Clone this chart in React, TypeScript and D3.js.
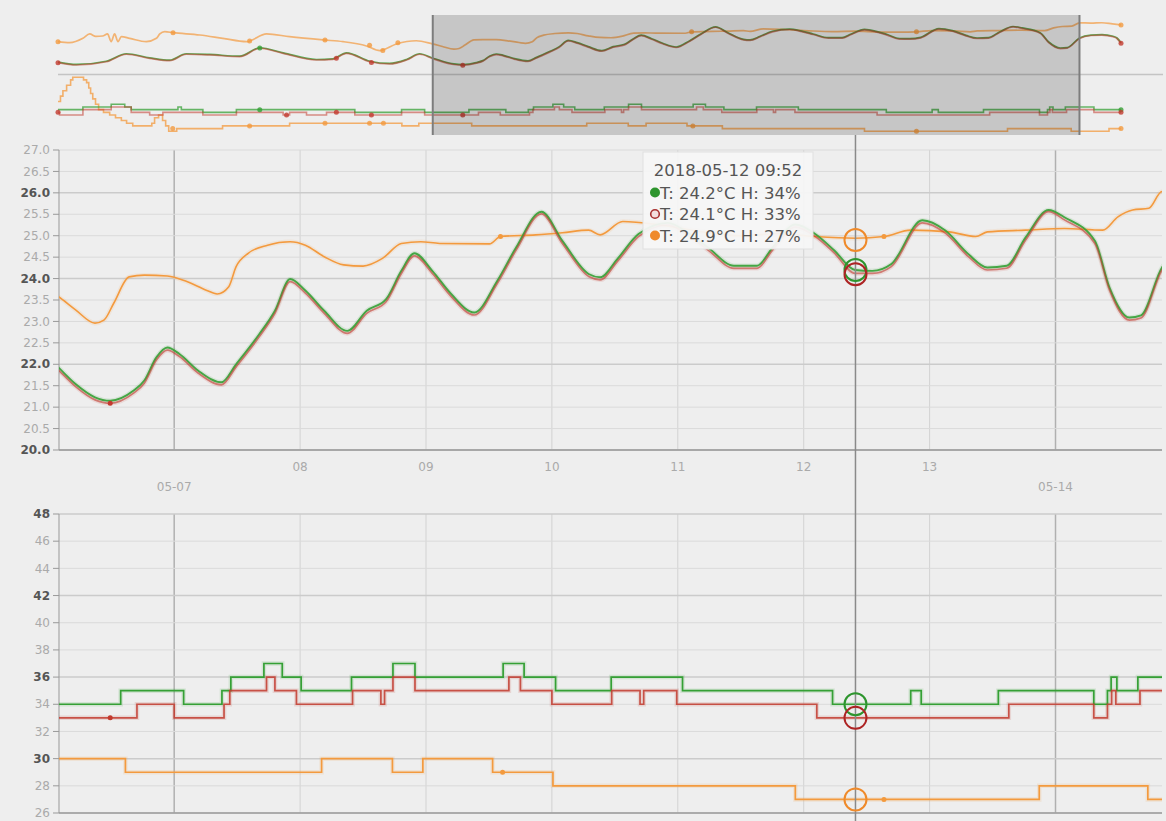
import React from 'react';
import * as d3 from 'd3';

type P = [number, number];

// time base: hours are offsets from 2018-05-06 00:00 (local)
const BASE = new Date(2018, 4, 6, 0, 0, 0);
const toDate = (h: number) => new Date(BASE.getTime() + h * 3600000);

const DATA_START_H = -119.8;
const DATA_END_H = 225.8;
const VIEW_START_H = 2.04;
const VIEW_END_H = 212.3;
const CURSOR_H = 153.87;

// Temperature (°C) – [hour, value]
const TEMP_RED: P[] = [
  [-119.8, 21.38], [-113.8, 21.11], [-104.1, 21.49], [-97.6, 22.36], [-90.0, 21.89], [-83.5, 21.61],
  [-78.1, 22.36], [-70.5, 22.28], [-60.7, 22.08], [-54.2, 23.06], [-46.6, 22.47], [-35.8, 21.69],
  [-30.4, 21.77], [-26.0, 22.47], [-18.4, 21.49], [-12.0, 21.23], [-6.5, 21.69], [-2.2, 22.36],
  [1.9, 21.87], [5.2, 21.48], [8.9, 21.17], [11.8, 21.09], [16.2, 21.32], [18.3, 21.56], [20.6, 22.1],
  [22.7, 22.33], [25.0, 22.18], [28.6, 21.79], [33.0, 21.52], [35.8, 21.94], [40.2, 22.64], [43.2, 23.19],
  [46.1, 23.93], [49.0, 23.66], [52.6, 23.19], [57.0, 22.72], [60.7, 23.19], [64.4, 23.46], [67.3, 24.12],
  [69.8, 24.53], [73.2, 24.12], [76.8, 23.58], [81.2, 23.15], [85.6, 23.89], [89.2, 24.67], [94.0, 25.51],
  [98.0, 24.82], [103.1, 24.04], [105.2, 23.97], [108.5, 24.4], [112.5, 24.98], [118.1, 25.25], [122.0, 25.0],
  [125.7, 24.67], [130.7, 24.24], [135.1, 24.24], [138.1, 24.67], [142.4, 25.2], [146.2, 24.98], [149.8, 24.6],
  [153.8, 24.12], [157.1, 24.12], [160.7, 24.28], [166.6, 25.3], [171.0, 25.06], [175.4, 24.51], [179.0, 24.2],
  [182.7, 24.24], [186.3, 24.9], [190.7, 25.56], [193.7, 25.37], [199.5, 24.82], [202.3, 23.73], [206.1, 23.03],
  [208.3, 23.08], [212.3, 24.2], [216.0, 24.55], [219.6, 24.6], [223.2, 24.4], [224.5, 24.2], [225.8, 23.64],
];
const TEMP_GREEN: P[] = [
  [-119.8, 21.44], [-113.8, 21.17], [-104.1, 21.55], [-97.6, 22.42], [-90.0, 21.95], [-83.5, 21.67],
  [-78.1, 22.42], [-70.5, 22.34], [-60.7, 22.14], [-54.2, 23.12], [-46.6, 22.53], [-35.8, 21.75],
  [-30.4, 21.83], [-26.0, 22.53], [-18.4, 21.55], [-12.0, 21.29], [-6.5, 21.75], [-2.2, 22.42],
  [1.9, 21.93], [5.2, 21.54], [8.9, 21.23], [11.8, 21.15], [16.2, 21.38], [18.3, 21.62], [20.6, 22.16],
  [22.7, 22.39], [25.0, 22.24], [28.6, 21.85], [33.0, 21.58], [35.8, 22.0], [40.2, 22.7], [43.2, 23.25],
  [46.1, 23.99], [49.0, 23.72], [52.6, 23.25], [57.0, 22.78], [60.7, 23.25], [64.4, 23.52], [67.3, 24.18],
  [69.8, 24.59], [73.2, 24.18], [76.8, 23.64], [81.2, 23.21], [85.6, 23.95], [89.2, 24.73], [94.0, 25.56],
  [98.0, 24.88], [103.1, 24.1], [105.2, 24.03], [108.5, 24.46], [112.5, 25.04], [118.1, 25.3], [122.0, 25.06],
  [125.7, 24.73], [130.7, 24.3], [135.1, 24.3], [138.1, 24.73], [142.4, 25.26], [146.2, 25.04], [149.8, 24.66],
  [153.8, 24.2], [157.1, 24.18], [160.7, 24.34], [166.6, 25.36], [171.0, 25.12], [175.4, 24.57], [179.0, 24.26],
  [182.7, 24.3], [186.3, 24.96], [190.7, 25.6], [193.7, 25.43], [199.5, 24.88], [202.3, 23.79], [206.1, 23.09],
  [208.3, 23.14], [212.3, 24.26], [216.0, 24.6], [219.6, 24.66], [223.2, 24.46], [224.5, 24.26], [225.8, 23.7],
];
const TEMP_ORANGE: P[] = [
  [-119.8, 23.83], [-116.0, 23.71], [-111.7, 24.22], [-109.5, 24.73], [-107.5, 24.45], [-105.3, 24.49],
  [-103.7, 24.73], [-102.5, 23.83], [-101.4, 24.73], [-100.3, 23.83], [-99.2, 24.41], [-96.5, 24.22],
  [-91.1, 23.83], [-87.8, 24.22], [-86.7, 24.73], [-85.1, 25.0], [-82.4, 24.88], [-73.7, 24.61],
  [-66.2, 24.22], [-58.5, 23.83], [-52.0, 24.73], [-44.5, 24.41], [-33.6, 24.03], [-27.1, 23.83],
  [-19.5, 23.33], [-15.2, 22.78], [-9.8, 23.56], [-3.3, 23.94],
  [1.9, 23.58], [5.2, 23.27], [8.9, 22.96], [10.6, 23.03], [12.5, 23.43], [15.4, 24.04], [18.3, 24.08],
  [22.7, 24.06], [26.4, 23.93], [30.1, 23.73], [32.2, 23.64], [34.4, 23.81], [35.8, 24.28], [38.1, 24.59],
  [41.8, 24.78], [46.1, 24.86], [49.0, 24.78], [52.6, 24.51], [56.3, 24.32], [60.0, 24.29], [63.7, 24.47],
  [67.3, 24.82], [71.0, 24.86], [74.6, 24.82], [84.1, 24.81], [86.2, 24.98], [92.9, 25.02], [98.0, 25.07],
  [103.0, 25.13], [105.2, 25.02], [109.5, 25.33], [116.6, 25.25], [124.2, 25.1], [132.0, 25.0], [139.5, 25.05],
  [146.2, 24.98], [153.8, 24.94], [159.3, 24.98], [164.4, 25.13], [171.7, 25.09], [176.8, 24.98], [179.0, 25.09],
  [186.3, 25.13], [193.7, 25.17], [201.0, 25.13], [203.9, 25.44], [206.7, 25.6], [209.8, 25.64], [212.3, 26.03],
  [216.0, 26.0], [219.6, 26.04], [223.0, 25.9], [225.8, 25.78],
];

// Humidity (%) – step change points [hour, value]
const HUM_GREEN: P[] = [
  [-119.8, 35], [-111.7, 36], [-102.5, 37], [-98.1, 36], [-96.0, 35], [-80.8, 36], [-79.7, 35], [-72.7, 34],
  [-61.8, 35], [-23.3, 34], [-8.1, 35], [-0.6, 34],
  [13.8, 35], [25.8, 34], [33.1, 35], [34.8, 36], [41.1, 37], [44.6, 36], [48.2, 35], [57.8, 36], [65.7, 37],
  [69.9, 36], [86.7, 37], [90.7, 36], [96.7, 35], [107.3, 36], [120.9, 35], [149.5, 34], [164.4, 35], [166.4, 34],
  [181.1, 35], [199.3, 34], [201.9, 35], [202.6, 36], [203.7, 35], [207.7, 36], [217.0, 35],
];
const HUM_RED: P[] = [
  [-119.8, 34], [-119.3, 33], [-111.7, 35], [-102.5, 36], [-96.0, 34], [-90.0, 33], [-85.7, 34], [-72.7, 33],
  [-61.8, 34], [-46.6, 33], [-44.5, 34], [-39.0, 33], [-32.5, 34], [-23.3, 33], [-8.1, 34], [-0.6, 33],
  [16.9, 34], [24.0, 33], [33.5, 34], [34.6, 35], [41.6, 36], [43.2, 35], [47.3, 34], [58.0, 35], [63.4, 34],
  [64.1, 35], [65.7, 36], [69.9, 35], [87.8, 36], [90.0, 35], [96.0, 34], [107.4, 35], [112.8, 34], [113.5, 35],
  [119.8, 34], [146.5, 33], [183.1, 34], [199.3, 33], [201.9, 34], [202.7, 35], [203.5, 34], [208.1, 35], [217.0, 34],
];
const HUM_ORANGE: P[] = [
  [-119.8, 38], [-119.0, 40], [-118.2, 42], [-117.0, 44], [-115.7, 46], [-115.0, 47], [-111.5, 46], [-110.5, 45],
  [-109.8, 43], [-109.2, 41], [-108.5, 39], [-107.6, 37], [-106.6, 35], [-105.0, 34], [-103.0, 33], [-101.1, 32],
  [-99.2, 31], [-97.5, 30], [-95.5, 29], [-89.3, 30], [-88.4, 32], [-87.1, 33], [-85.8, 31], [-84.8, 29],
  [-83.8, 27], [-81.2, 28], [-66.3, 29], [-44.5, 30], [-8.0, 29], [-2.5, 30],
  [14.7, 29], [52.1, 30], [65.6, 29], [71.4, 30], [84.7, 29], [96.2, 28], [142.4, 27], [188.9, 28], [209.6, 27],
  [221.9, 28],
];

// isolated marker points
const DOTS_RED_T: P[] = [[-119.8, 21.38], [-29.3, 21.9], [-17.9, 21.4], [11.8, 21.09], [225.8, 23.64]];
const DOTS_GREEN_T: P[] = [[-54.2, 23.1]];
const DOTS_ORANGE_T: P[] = [[-119.8, 23.83], [-82.4, 24.88], [-57.5, 23.9], [-33.0, 24.03], [-18.5, 23.4], [-14.2, 22.8], [-9.3, 23.7], [86.2, 24.98], [159.3, 24.98], [225.8, 25.78]];
const DOTS_GREEN_H: P[] = [[-54.2, 35], [225.8, 35]];
const DOTS_RED_H: P[] = [[-119.8, 34], [-45.5, 33], [-29.3, 34], [-17.9, 33], [11.8, 33], [225.8, 34]];
const DOTS_ORANGE_H: P[] = [[-82.5, 28], [-57.5, 29], [-33.0, 30], [-18.5, 30], [-14.0, 30], [86.6, 29], [159.3, 27], [225.8, 28]];

const TEMP_TICKS = [20.0, 20.5, 21.0, 21.5, 22.0, 22.5, 23.0, 23.5, 24.0, 24.5, 25.0, 25.5, 26.0, 26.5, 27.0];
const TEMP_MAJOR = [20, 22, 24, 26];
const HUM_TICKS = [26, 28, 30, 32, 34, 36, 38, 40, 42, 44, 46, 48];
const HUM_MAJOR = [30, 36, 42, 48];

const TOOLTIP_TITLE = '2018-05-12 09:52';
const TOOLTIP_ROWS = [
  { key: 'green', t: 24.2, h: 34 },
  { key: 'red', t: 24.1, h: 33 },
  { key: 'orange', t: 24.9, h: 27 },
];

const COLORS: Record<string, string> = { green: '#35a035', red: '#c23a2e', orange: '#f39a3e' };
const RING: Record<string, string> = { green: '#2e952e', red: '#ad2424', orange: '#ef8a2a' };

const FONT = '"DejaVu Sans", Verdana, sans-serif';

export default function App() {
  const L = 59, R = 1162;
  const xMain = d3.scaleTime().domain([toDate(VIEW_START_H), toDate(VIEW_END_H)]).range([L, R]);
  const yT = d3.scaleLinear().domain([20, 27]).range([450, 150]);
  const yH = d3.scaleLinear().domain([26, 48]).range([813, 514]);
  const xOv = d3.scaleTime().domain([toDate(DATA_START_H), toDate(DATA_END_H)]).range([58, 1121]);
  const yOvT = d3.scaleLinear().domain([20, 27]).range([74.5, 14.5]);
  const yOvH = d3.scaleLinear().domain([26, 48]).range([134, 74.5]);

  const smooth = (xs: any, ys: any) => d3.line<P>().x(d => xs(toDate(d[0]))).y(d => ys(d[1])).curve(d3.curveMonotoneX);
  const step = (xs: any, ys: any) => (pts: P[]) =>
    d3.line<P>().x(d => xs(toDate(d[0]))).y(d => ys(d[1])).curve(d3.curveStepAfter)([...pts, [DATA_END_H, pts[pts.length - 1][1]]]);

  const days = d3.timeDay.range(toDate(VIEW_START_H), toDate(VIEW_END_H));
  const fmtWeek = d3.timeFormat('%m-%d');
  const fmtDay = d3.timeFormat('%d');
  const cx = xMain(toDate(CURSOR_H));

  const tempSeries: [string, P[], P[]][] = [['orange', TEMP_ORANGE, DOTS_ORANGE_T], ['green', TEMP_GREEN, DOTS_GREEN_T], ['red', TEMP_RED, DOTS_RED_T]];
  const humSeries: [string, P[], P[]][] = [['orange', HUM_ORANGE, DOTS_ORANGE_H], ['green', HUM_GREEN, DOTS_GREEN_H], ['red', HUM_RED, DOTS_RED_H]];

  const lineW: Record<string, number> = { orange: 1.6, green: 1.9, red: 1.7 };
  const lineOp: Record<string, number> = { orange: 1, green: 0.9, red: 0.6 };

  const yAxis = (ys: any, ticks: number[], major: number[], top: number, bottom: number, fmt: (v: number) => string) => (
    <g>
      {ticks.map(v => (
        <g key={v}>
          <line x1={L} x2={R} y1={ys(v)} y2={ys(v)} stroke={major.includes(v) ? '#cbcbcb' : '#dadada'} strokeWidth={major.includes(v) ? 1.5 : 1} />
          <line x1={L - 6} x2={L} y1={ys(v)} y2={ys(v)} stroke="#999" />
          <text x={L - 9} y={ys(v)} dy="0.35em" textAnchor="end" fontFamily={FONT} fontSize={12}
            fontWeight={major.includes(v) ? 'bold' : 'normal'} fill={major.includes(v) ? '#555' : '#aaa'}>{fmt(v)}</text>
        </g>
      ))}
      <line x1={L} x2={L} y1={top} y2={bottom} stroke="#999" />
      <line x1={L} x2={R} y1={bottom} y2={bottom} stroke="#999" strokeWidth={1.5} />
    </g>
  );

  const vGrid = (top: number, bottom: number) => days.map((d, i) => {
    const wk = d.getDay() === 1;
    return <line key={i} x1={xMain(d)} x2={xMain(d)} y1={top} y2={bottom} stroke={wk ? '#b0b0b0' : '#d2d2d2'} strokeWidth={wk ? 1.5 : 1} />;
  });

  const bx0 = xOv(toDate(VIEW_START_H));
  const bx1 = xOv(toDate(VIEW_END_H));

  return (
    <svg width={1166} height={821} style={{ position: 'absolute', left: 0, top: 0, display: 'block' }}>
      <defs>
        <clipPath id="clipT"><rect x={L} y={148} width={R - L} height={303} /></clipPath>
        <clipPath id="clipH"><rect x={L} y={512} width={R - L} height={302} /></clipPath>
      </defs>
      <rect x={0} y={0} width={1166} height={821} fill="#eeeeee" />

      {/* Overview */}
      <line x1={58} x2={1163} y1={74.5} y2={74.5} stroke="#c4c4c4" strokeWidth={1.5} />
      {tempSeries.map(([k, pts]) => (
        <path key={'ovt' + k} d={smooth(xOv, yOvT)(pts) || ''} fill="none" stroke={COLORS[k]} strokeWidth={1.7} opacity={k === 'red' ? 0.55 : k === 'orange' ? 0.7 : 0.8} />
      ))}
      {humSeries.map(([k, pts]) => (
        <path key={'ovh' + k} d={step(xOv, yOvH)(pts) || ''} fill="none" stroke={COLORS[k]} strokeWidth={1.6} opacity={k === 'red' ? 0.55 : 0.75} />
      ))}
      {tempSeries.map(([k, , dots]) => dots.map((p, i) => (
        <circle key={'ovtd' + k + i} cx={xOv(toDate(p[0]))} cy={yOvT(p[1])} r={2.5} fill={COLORS[k]} opacity={0.8} />
      )))}
      {humSeries.map(([k, , dots]) => dots.map((p, i) => (
        <circle key={'ovhd' + k + i} cx={xOv(toDate(p[0]))} cy={yOvH(p[1])} r={2.5} fill={COLORS[k]} opacity={0.8} />
      )))}
      <rect x={bx0} y={15} width={bx1 - bx0} height={120} fill="rgba(0,0,0,0.17)" />
      <line x1={bx0} x2={bx0} y1={15} y2={135} stroke="#7d7d7d" strokeWidth={2} />
      <line x1={bx1} x2={bx1} y1={15} y2={135} stroke="#7d7d7d" strokeWidth={2} />

      {/* Temperature chart */}
      {vGrid(150, 450)}
      {yAxis(yT, TEMP_TICKS, TEMP_MAJOR, 150, 450, v => v.toFixed(1))}
      {days.map((d, i) => {
        const wk = d.getDay() === 1;
        return (
          <text key={'xl' + i} x={xMain(d)} y={wk ? 487 : 467} dy="0.35em" textAnchor="middle" fontFamily={FONT} fontSize={12} fill="#aaa">
            {wk ? fmtWeek(d) : fmtDay(d)}
          </text>
        );
      })}
      <g clipPath="url(#clipT)">
        {tempSeries.map(([k, pts]) => (
          <path key={'th' + k} d={smooth(xMain, yT)(pts) || ''} fill="none" stroke={COLORS[k]} strokeWidth={4.5} opacity={0.12} />
        ))}
        {tempSeries.map(([k, pts]) => (
          <path key={'t' + k} d={smooth(xMain, yT)(pts) || ''} fill="none" stroke={COLORS[k]} strokeWidth={lineW[k]} opacity={lineOp[k]} />
        ))}
        {tempSeries.map(([k, , dots]) => dots.map((p, i) => (
          <circle key={'td' + k + i} cx={xMain(toDate(p[0]))} cy={yT(p[1])} r={2.5} fill={COLORS[k]} />
        )))}
      </g>

      {/* Humidity chart */}
      {vGrid(514, 813)}
      {yAxis(yH, HUM_TICKS, HUM_MAJOR, 514, 813, v => String(v))}
      <g clipPath="url(#clipH)">
        {humSeries.map(([k, pts]) => (
          <path key={'hh' + k} d={step(xMain, yH)(pts) || ''} fill="none" stroke={COLORS[k]} strokeWidth={4.5} opacity={0.14} />
        ))}
        {humSeries.map(([k, pts]) => (
          <path key={'h' + k} d={step(xMain, yH)(pts) || ''} fill="none" stroke={COLORS[k]} strokeWidth={1.7} opacity={k === 'red' ? 0.85 : 1} />
        ))}
        {humSeries.map(([k, , dots]) => dots.map((p, i) => (
          <circle key={'hd' + k + i} cx={xMain(toDate(p[0]))} cy={yH(p[1])} r={2.5} fill={COLORS[k]} />
        )))}
      </g>

      {/* Cursor */}
      <line x1={cx} x2={cx} y1={135} y2={821} stroke="#8a8a8a" strokeWidth={1.5} />
      {TOOLTIP_ROWS.map(r => (
        <g key={'c' + r.key}>
          <circle cx={cx} cy={yT(r.t)} r={11} fill="none" stroke={RING[r.key]} strokeWidth={2} />
          <circle cx={cx} cy={yH(r.h)} r={11} fill="none" stroke={RING[r.key]} strokeWidth={2} />
        </g>
      ))}

      {/* Tooltip */}
      <g>
        <rect x={643} y={152} width={170} height={97} fill="#f6f6f6" fillOpacity={0.95} stroke="#e0e0e0" />
        <text x={728} y={176} textAnchor="middle" fontFamily={FONT} fontSize={16.5} fill="#555">{TOOLTIP_TITLE}</text>
        {TOOLTIP_ROWS.map((r, i) => {
          const by = 198.5 + i * 21.5;
          return (
            <g key={'tt' + r.key}>
              {r.key === 'red'
                ? <circle cx={655} cy={by - 6} r={4.3} fill="#f3dede" stroke="#a83030" strokeWidth={1.6} />
                : <circle cx={655} cy={by - 6} r={5} fill={RING[r.key]} />}
              <text x={660} y={by} fontFamily={FONT} fontSize={16.5} fill="#555">
                {`T: ${r.t.toFixed(1)}°C H: ${r.h}%`}
              </text>
            </g>
          );
        })}
      </g>
    </svg>
  );
}
